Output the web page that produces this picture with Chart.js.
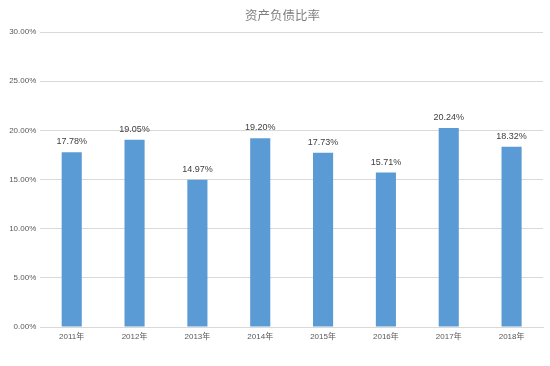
<!DOCTYPE html>
<html>
<head>
<meta charset="utf-8">
<script src="https://cdn.jsdelivr.net/npm/chart.js@4/dist/chart.umd.min.js"></script>
<style>
  html, body { margin: 0; padding: 0; background: #fff; }
  #wrap { width: 550px; height: 366px; }
</style>
</head>
<body>
<div id="wrap"><canvas id="ratioChart"></canvas></div>
<script>
const chartTitle = '资产负债比率';
const years = ['2011年', '2012年', '2013年', '2014年', '2015年', '2016年', '2017年', '2018年'];
const ratios = [17.78, 19.05, 14.97, 19.20, 17.73, 15.71, 20.24, 18.32];
const yTicks = [0, 5, 10, 15, 20, 25, 30];

// title sits a bit right of the canvas centre, like the original
const titleText = {
  id: 'titleText',
  afterDraw(chart) {
    const ctx = chart.ctx;
    ctx.save();
    ctx.font = '12.5px "Noto Sans CJK SC", sans-serif';
    ctx.fillStyle = '#7f7f7f';
    ctx.textAlign = 'center';
    ctx.textBaseline = 'middle';
    ctx.fillText(chartTitle, 282.5, 15);
    ctx.restore();
  }
};

// labels above bars
const barLabels = {
  id: 'barLabels',
  afterDatasetsDraw(chart) {
    const ctx = chart.ctx;
    const meta = chart.getDatasetMeta(0);
    ctx.save();
    ctx.font = '9px "Liberation Sans", Arial, sans-serif';
    ctx.fillStyle = '#404040';
    ctx.textAlign = 'center';
    ctx.textBaseline = 'bottom';
    meta.data.forEach((bar, i) => {
      ctx.fillText(ratios[i].toFixed(2) + '%', bar.x, bar.y - 6);
    });
    ctx.restore();
  }
};

new Chart(document.getElementById('ratioChart'), {
  type: 'bar',
  data: {
    labels: years,
    datasets: [{
      data: ratios,
      backgroundColor: '#5B9BD5',
      barPercentage: 0.64,
      categoryPercentage: 0.5
    }]
  },
  options: {
    responsive: true,
    maintainAspectRatio: false,
    animation: false,
    layout: { padding: { left: 0, right: 7, top: 32, bottom: 19 } },
    plugins: {
      legend: { display: false },
      tooltip: { enabled: false },
      title: { display: false }
    },
    scales: {
      x: {
        grid: { display: false, drawTicks: false },
        border: { color: '#D9D9D9' },
        ticks: {
          color: '#595959',
          font: { size: 8, lineHeight: 1, family: '"Liberation Sans", "Noto Sans CJK SC", sans-serif' },
          padding: 6
        }
      },
      y: {
        min: 0,
        max: 30,
        afterBuildTicks(scale) {
          scale.ticks = yTicks.map(v => ({ value: v }));
        },
        afterFit(scale) { scale.width = 40.3; },
        grid: { color: '#D9D9D9', drawTicks: false },
        border: { display: false },
        ticks: {
          color: '#595959',
          font: { size: 8, family: '"Liberation Sans", Arial, sans-serif' },
          padding: 4,
          callback: v => v.toFixed(2) + '%'
        }
      }
    }
  },
  plugins: [barLabels, titleText]
});
</script>
</body>
</html>
